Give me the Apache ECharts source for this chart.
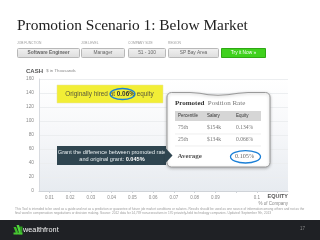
<!DOCTYPE html>
<html><head><meta charset="utf-8">
<script src="https://cdn.jsdelivr.net/npm/echarts@6/dist/echarts.min.js"></script>
<style>html,body{margin:0;padding:0;background:#fff}#c{width:320px;height:240px}</style>
</head><body><div id="c"></div><script>
// ---- data ----
const equityCategories = ['0.01','0.02','0.03','0.04','0.05','0.06','0.07','0.08','0.09','','0.1',''];
const cashTicks = [0, 20, 40, 60, 80, 100, 120, 140, 160];
const filterLabels = ['JOB FUNCTION', 'JOB LEVEL', 'COMPANY SIZE', 'REGION'];
const filterValues = ['Software Engineer', 'Manager', '51 - 100', 'SP Bay Area'];
const tableHeaders = ['Percentile', 'Salary', 'Equity'];
const tablePercentiles = ['75th', '25th'];
const tableSalaries = ['$154k', '$134k'];
const tableEquity = ['0.134%', '0.066%'];
const averageEquity = '0.105%';
const originalEquity = '0.06%';
const grantDifference = '0.045%';

const chart = echarts.init(document.getElementById('c'), null, {renderer: 'canvas'});
const SANS = '"Liberation Sans", Arial, sans-serif';
const SERIF = '"Liberation Serif", "DejaVu Serif", serif';

const g = [];
function txt(x, y, text, font, fill, align, z) {
  g.push({type: 'text', x: x, y: y, z: z || 10, style: {text: text, font: font, fill: fill, textAlign: align || 'left', textVerticalAlign: 'middle'}});
}
// rounded-card outline points with a shallow dip on top
function cardPoints(x0, y0, x1, y1, r) {
  const pts = [];
  const arc = (cx, cy, a0, a1) => { for (let k = 0; k <= 4; k++) { const a = a0 + (a1 - a0) * k / 4; pts.push([cx + r * Math.cos(a), cy + r * Math.sin(a)]); } };
  arc(x0 + r, y0 + r, Math.PI, 1.5 * Math.PI);
  pts.push([190, y0], [200, y0 + 0.8], [208, y0 + 2.2], [218, y0 + 2.8], [228, y0 + 2.2], [238, y0 + 0.8], [248, y0]);
  arc(x1 - r, y0 + r, 1.5 * Math.PI, 2 * Math.PI);
  arc(x1 - r, y1 - r, 0, 0.5 * Math.PI);
  arc(x0 + r, y1 - r, 0.5 * Math.PI, Math.PI);
  return pts;
}
// title
txt(17, 25.5, 'Promotion Scenario 1: Below Market', '15.4px ' + SERIF, '#222');
// filters
const btnX = [[17, 79], [81, 124], [128, 165], [168, 218]];
btnX.forEach((b, i) => {
  txt(b[0], 43.5, filterLabels[i], '3.3px ' + SANS, '#9a9a9a');
  g.push({type: 'rect', z: 5, shape: {x: b[0] + 0.5, y: 48.5, width: b[1] - b[0], height: 9, r: 1},
    style: {fill: {type: 'linear', x: 0, y: 0, x2: 0, y2: 1, colorStops: [{offset: 0, color: '#f2f2f2'}, {offset: 1, color: '#dcdcdc'}]}, stroke: '#b8b8b8', lineWidth: 1}});
  txt((b[0] + b[1]) / 2 + 0.5, 53, filterValues[i], (i === 0 ? 'bold ' : '') + '4.8px ' + SANS, '#666', 'center');
});
g.push({type: 'rect', z: 5, shape: {x: 221.5, y: 48.5, width: 44, height: 9},
  style: {fill: '#3fd11d', stroke: '#2fa814', lineWidth: 1}});
txt(243.5, 53, 'Try it Now \u00bb', '4.8px ' + SANS, '#fff', 'center');
// cash label
g.push({type: 'text', x: 26, y: 71, z: 10, style: {text: '{a|CASH} {b|$ in Thousands}', textVerticalAlign: 'middle',
  rich: {a: {font: 'bold 6px ' + SANS, fill: '#555'}, b: {font: '4.3px ' + SANS, fill: '#888'}}}});
// equity label
txt(288, 196, 'EQUITY', 'bold 5.5px ' + SANS, '#555', 'right');
txt(288, 203.3, '% of Company', '4.5px ' + SANS, '#888', 'right');
// yellow box
g.push({type: 'rect', z: 8, shape: {x: 57, y: 85, width: 106, height: 18}, style: {fill: '#f2ee36', stroke: '#e6e2a0', lineWidth: 0.5}});
g.push({type: 'text', x: 109.5, y: 94, z: 10, style: {text: '{a|Originally hired at }{b|' + originalEquity + '}{a| equity}', textAlign: 'center', textVerticalAlign: 'middle',
  rich: {a: {font: '6.4px ' + SANS, fill: '#5a5a3a'}, b: {font: 'bold 6.4px ' + SANS, fill: '#333'}}}});
g.push({type: 'ellipse', z: 11, shape: {cx: 122.5, cy: 94, rx: 12.5, ry: 5.5}, style: {fill: 'none', stroke: '#1b7fd6', lineWidth: 1.3}});
// card
g.push({type: 'polygon', z: 12, shape: {points: cardPoints(167, 92.5, 270, 167, 4.5)},
  style: {fill: '#fff', stroke: '#9a9a9a', lineWidth: 1, shadowBlur: 3, shadowColor: 'rgba(0,0,0,0.25)', shadowOffsetY: 1}});
// dark box with arrow (drawn over card edge)
g.push({type: 'polygon', z: 8, shape: {points: [[57, 146], [166, 146], [166, 165], [57, 165]]}, style: {fill: '#2f4550'}});
g.push({type: 'polygon', z: 16, shape: {points: [[165, 147.5], [172.5, 155.5], [165, 163.5]]}, style: {fill: '#2f4550'}});
txt(112, 152, 'Grant the difference between promoted rate', '5.6px ' + SANS, '#e8eef0', 'center', 10);
g.push({type: 'text', x: 112, y: 159.3, z: 10, style: {text: '{a|and original grant: }{b|' + grantDifference + '}', textAlign: 'center', textVerticalAlign: 'middle',
  rich: {a: {font: '5.6px ' + SANS, fill: '#e8eef0'}, b: {font: 'bold 5.6px ' + SANS, fill: '#fff'}}}});
g.push({type: 'text', x: 175, y: 103, z: 14, style: {text: '{a|Promoted} {b|Position Rate}', textVerticalAlign: 'middle',
  rich: {a: {font: 'bold 7px ' + SERIF, fill: '#333'}, b: {font: '7px ' + SERIF, fill: '#777'}}}});
g.push({type: 'rect', z: 13, shape: {x: 175, y: 111, width: 86, height: 10}, style: {fill: '#d6d6d6'}});
const colX = [178, 207, 236];
tableHeaders.forEach((h, i) => txt(colX[i], 116, h, '4.5px ' + SANS, '#333', 'left', 14));
const rowY = [128, 140];
tablePercentiles.forEach((p, r) => {
  txt(colX[0], rowY[r], p, '5.6px ' + SERIF, '#777', 'left', 14);
  txt(colX[1], rowY[r], tableSalaries[r], '5.6px ' + SERIF, '#777', 'left', 14);
  txt(colX[2], rowY[r], tableEquity[r], '5.6px ' + SERIF, '#777', 'left', 14);
  g.push({type: 'line', z: 13, shape: {x1: 175, y1: rowY[r] + 6, x2: 261, y2: rowY[r] + 6}, style: {stroke: '#e2e2e2', lineWidth: 0.6}});
});
txt(177.5, 156, 'Average', 'bold 7px ' + SERIF, '#555', 'left', 14);
txt(235, 156.5, averageEquity, '6.2px ' + SERIF, '#666', 'left', 14);
g.push({type: 'ellipse', z: 15, shape: {cx: 245.5, cy: 156.8, rx: 15, ry: 6.2}, style: {fill: 'none', stroke: '#1b7fd6', lineWidth: 1.3}});
// footnote
txt(15, 209, 'This Tool is intended to be used as a guide and not as a prediction or guarantee of future job market conditions or salaries. Results should be used as one source of information among others and not as the', '3.2px ' + SANS, '#9a9a9a');
txt(15, 213.3, 'final word in compensation negotiations or decision making. Source: 2012 data for 14,739 non-executives in 170 privately-held technology companies. Updated: September 9th, 2013', '3.2px ' + SANS, '#9a9a9a');
// footer bar
g.push({type: 'rect', z: 2, shape: {x: 0, y: 220, width: 320, height: 20}, style: {fill: '#1f2125'}});
g.push({type: 'polygon', z: 3, shape: {points: [[13.5, 227], [16, 227], [18, 232], [16.5, 234.5]]}, style: {fill: '#3fbf2a'}});
g.push({type: 'polygon', z: 3, shape: {points: [[16.5, 225], [19, 225], [21.5, 232.5], [19.5, 234.5]]}, style: {fill: '#4fd63a'}});
g.push({type: 'polygon', z: 3, shape: {points: [[20, 226.5], [22.5, 226.5], [22, 234.5], [20.5, 234.5]]}, style: {fill: '#2f9e22'}});
g.push({type: 'polygon', z: 3, shape: {points: [[13.5, 232.5], [22.5, 232.5], [22.5, 234.5], [13.5, 234.5]]}, style: {fill: '#48c832'}});
txt(23, 230, 'wealthfront', '7.3px ' + SANS, '#f0f0f0');
txt(300, 229, '17', '4.5px ' + SANS, '#8a8a8a');

chart.setOption({
  animation: false,
  grid: {left: 39, right: 32, top: 79, bottom: 49, show: true, borderWidth: 0,
    backgroundColor: {type: 'linear', x: 0, y: 0, x2: 0, y2: 1, colorStops: [{offset: 0, color: '#ffffff'}, {offset: 0.45, color: '#f7f8fa'}, {offset: 1, color: '#e7ebf0'}]}},
  xAxis: {type: 'category', data: equityCategories, boundaryGap: true,
    axisLine: {lineStyle: {color: '#cfd3d8', width: 1}}, axisTick: {show: true, alignWithLabel: true, length: 2, lineStyle: {color: '#cfd3d8'}},
    axisLabel: {fontSize: 4.5, color: '#8a8a8a', margin: 4, fontFamily: SANS, interval: 0}},
  yAxis: {type: 'value', min: cashTicks[0], max: cashTicks[cashTicks.length - 1], interval: cashTicks[1] - cashTicks[0],
    axisLine: {show: true, lineStyle: {color: '#d8dbe0'}}, axisTick: {show: false},
    splitLine: {lineStyle: {color: '#eceef0', width: 1}},
    axisLabel: {fontSize: 4.8, color: '#8a8a8a', margin: 5, fontFamily: SANS}},
  series: [{type: 'line', data: [], silent: true}],
  graphic: g
});
</script></body></html>
